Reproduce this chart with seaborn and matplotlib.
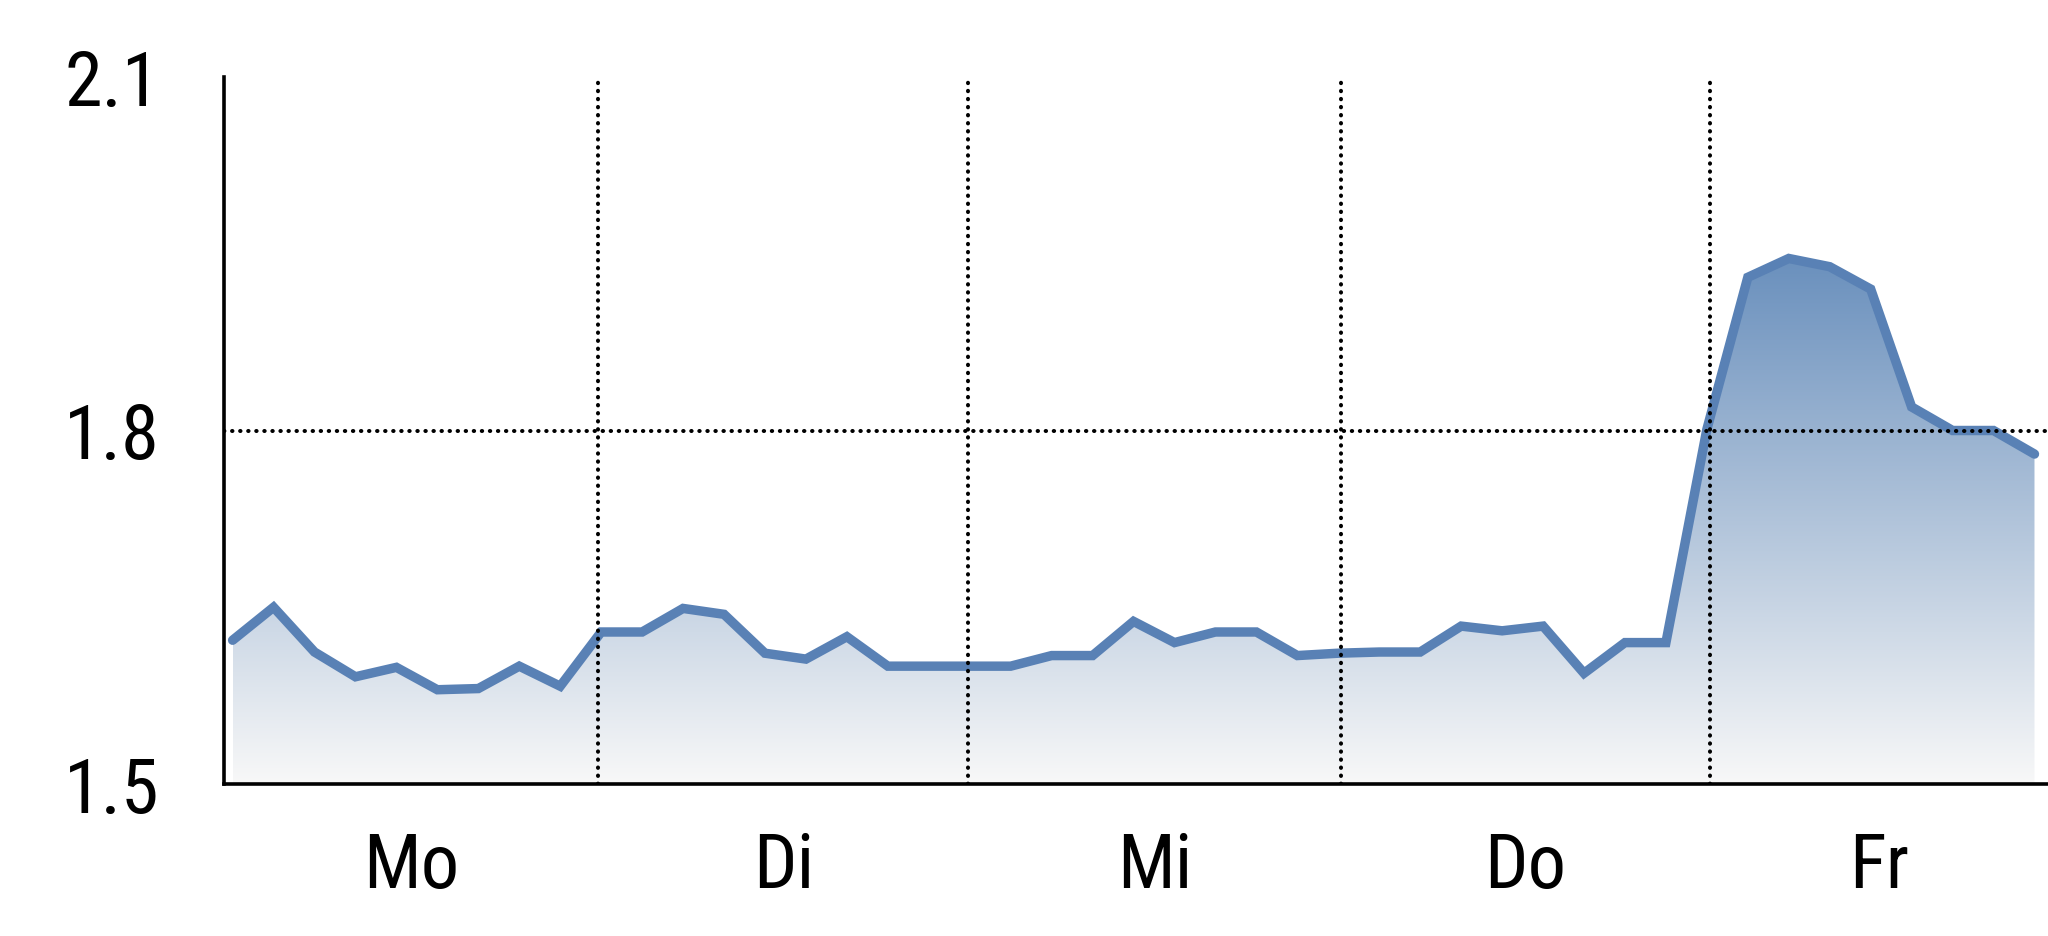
import numpy as np
import pandas as pd
import matplotlib
matplotlib.use('Agg')
import matplotlib.pyplot as plt
import seaborn as sns
from matplotlib.colors import LinearSegmentedColormap
from matplotlib.transforms import offset_copy

# values, 9 samples per weekday
days = ['Mo', 'Di', 'Mi', 'Do', 'Fr']
mo = [1.622, 1.650, 1.612, 1.591, 1.599, 1.580, 1.581, 1.600, 1.583]
di = [1.629, 1.629, 1.649, 1.644, 1.611, 1.606, 1.625, 1.600, 1.600]
mi = [1.600, 1.600, 1.609, 1.609, 1.638, 1.620, 1.629, 1.629, 1.609]
do = [1.611, 1.612, 1.612, 1.634, 1.630, 1.634, 1.594, 1.620, 1.620]
fr = [1.801, 1.930, 1.946, 1.939, 1.920, 1.820, 1.800, 1.800, 1.780]
# day separators (in sample units)
day_edges = [8.93, 17.96, 27.07, 36.07]
y_ticks = [1.5, 1.8, 2.1]
y_labels = ['1.5', '1.8', '2.1']

values = mo + di + mi + do + fr
df = pd.DataFrame({'t': np.arange(len(values)), 'value': values})

sns.set_theme(style='white')
plt.rcParams['font.family'] = ['Roboto Condensed', 'Liberation Sans', 'DejaVu Sans']

line_col = '#5981b5'
x_left, x_right = -0.21, 44.33
y_min, y_max = 1.5, 2.1

fig = plt.figure(figsize=(20.48, 9.37), dpi=100)
ax = fig.add_axes([224 / 2048, 152 / 937, 1 - 224 / 2048, 707 / 937])

# gradient fill under the line
poly = ax.fill_between(df['t'], df['value'], y_min, color='none', lw=0)
grad = np.linspace(0, 1, 256).reshape(-1, 1)
cmap = LinearSegmentedColormap.from_list('fade', ['#f8f8f8', '#6a90bd'])
im = ax.imshow(grad, extent=[df['t'].min(), df['t'].max(), y_min, df['value'].max()],
               origin='lower', aspect='auto', cmap=cmap, zorder=1, interpolation='bilinear')
im.set_clip_path(poly.get_paths()[0], transform=ax.transData)

sns.lineplot(data=df, x='t', y='value', ax=ax, color=line_col, linewidth=6.8,
             solid_capstyle='round', solid_joinstyle='miter', zorder=3)

# dotted reference lines
dot = dict(color='black', linewidth=2.9, linestyle=(0, (0.1, 1.9)),
           dash_capstyle='round', zorder=4)
ax.axhline(1.8, **dot)
for e in day_edges:
    ax.axvline(e, **dot)

ax.set_xlim(x_left, x_right)
ax.set_ylim(y_min, y_max)
ax.set_xticks([])
ax.set_yticks([])
ax.set_xlabel('')
ax.set_ylabel('')
sns.despine(ax=ax, top=True, right=True)
for s in ['left', 'bottom']:
    ax.spines[s].set_color('black')
    ax.spines[s].set_linewidth(2.6)
    ax.spines[s].set_zorder(5)
ax.set_facecolor('white')

# y labels
ytr = offset_copy(ax.get_yaxis_transform(), fig=fig, x=-64, y=-27.5, units='dots')
for v, lab in zip(y_ticks, y_labels):
    ax.text(0, v, lab, transform=ytr, ha='right', va='baseline', fontsize=55,
            color='black', clip_on=False)

# day labels centred in each segment
edges = [x_left] + day_edges + [x_right]
xtr = offset_copy(ax.get_xaxis_transform(), fig=fig, x=0, y=-103, units='dots')
for i, d in enumerate(days):
    mid = (edges[i] + edges[i + 1]) / 2
    ax.text(mid, 0, d, transform=xtr, ha='center', va='baseline', fontsize=55,
            color='black', clip_on=False)

fig.savefig('out.png', dpi=100, facecolor='white')
